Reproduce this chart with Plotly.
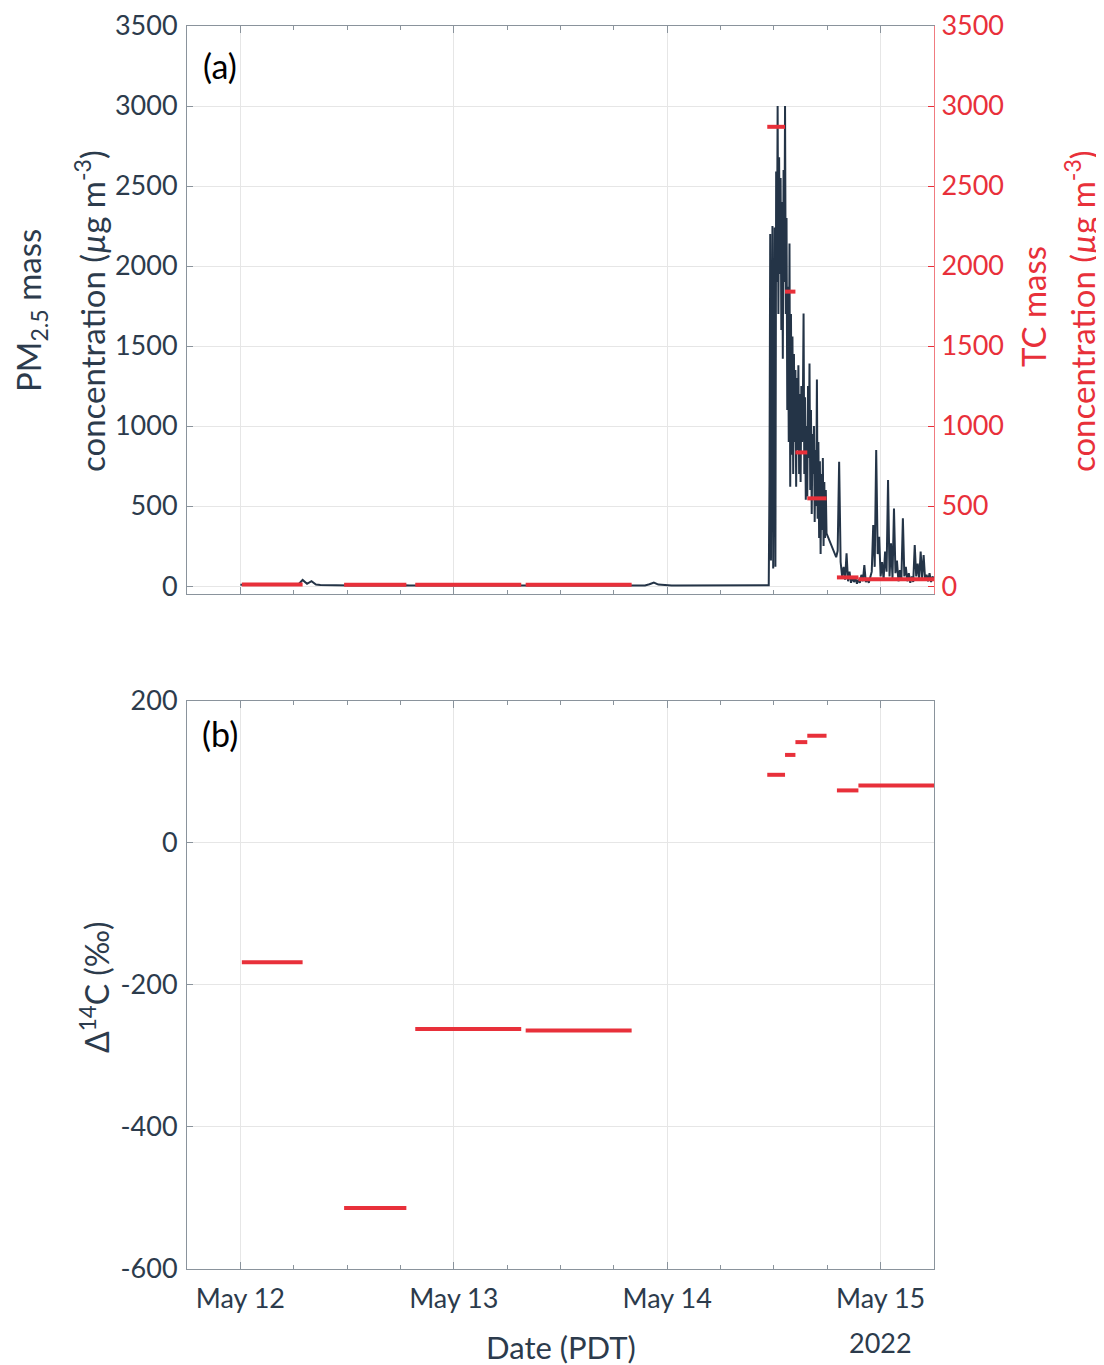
import pandas as pd
import plotly.graph_objects as go

# ---------------- data ----------------
# PM2.5 (ug m-3): baseline every 30 min from 2022-05-12 00:00
pm_base = [8, 9, 8, 9, 8, 8, 9, 8, 7, 8, 8, 7, 8, 8,
           38, 14, 30, 10, 7, 6,
           5, 5, 4, 5, 4, 4, 5, 4, 4, 5, 4, 4, 4, 5, 4, 4, 4, 5, 4, 4, 4, 4, 5, 4, 4, 4, 4, 5,
           4, 4, 5, 4, 4, 4, 5, 4, 4, 4, 4, 5, 4, 4, 4, 4, 5, 4, 4, 4, 4, 4, 5, 4, 4, 4, 4, 4, 5, 4,
           4, 4, 4, 5, 4, 4, 4, 4, 4, 5, 4, 4, 4, 4, 11, 22, 9, 6,
           5, 4, 4, 4, 5, 4, 4, 4, 4, 5, 4, 4, 4, 4, 5, 4, 4, 4, 4, 5, 4, 4, 4]
# event, every 5 min from 2022-05-14 11:05
pm_event = [4, 4, 5, 4, 5, 650, 2200, 160, 1900, 2250, 110,
            1500, 2240, 120, 2590, 1900, 3000, 1700, 2680, 1950, 2550, 1600, 2400,
            1420, 2600, 1900, 3000, 1700, 2300, 1100, 1870, 900, 2140, 620, 1700,
            820, 1560, 700, 1450, 900, 1350, 620, 1300, 850, 1380, 700, 1200,
            650, 1250, 900, 1100, 1704, 700, 1180, 540, 1000, 560, 1250, 800,
            1390, 600, 1100, 450, 950, 700, 1000, 400, 850, 500, 1290, 420,
            900, 300, 780, 200, 700, 350, 800, 250, 650, 300, 600, 330]
# after the event, every 10 min from 2022-05-14 19:00
pm_after = [180, 220, 777, 150, 60, 120,
            40, 204, 30, 90, 20, 60,
            25, 50, 15, 40, 20, 70,
            30, 131, 25, 45, 20, 60,
            90, 381, 120, 850, 200, 308,
            60, 150, 40, 215, 90, 662,
            60, 267, 50, 485, 80, 160,
            30, 100, 40, 423, 60, 120,
            30, 80, 20, 60, 25, 256,
            60, 140, 40, 215, 50, 194,
            40, 70, 30, 80, 25, 60,
            40]

# filter samples (start / end) with TC mass and Delta14C
tc_start = ["2022-05-12 00:10", "2022-05-12 11:40", "2022-05-12 19:40", "2022-05-13 08:05",
            "2022-05-14 11:15", "2022-05-14 13:15", "2022-05-14 14:25", "2022-05-14 15:45",
            "2022-05-14 19:05", "2022-05-14 21:30"]
tc_end = ["2022-05-12 07:00", "2022-05-12 18:40", "2022-05-13 07:35", "2022-05-13 20:00",
          "2022-05-14 13:15", "2022-05-14 14:25", "2022-05-14 15:45", "2022-05-14 17:55",
          "2022-05-14 21:30", "2022-05-15 08:00"]
tc_mass = [10, 8, 8, 8, 2870, 1840, 835, 548, 54, 42]
d14c = [-168, -514, -262, -264, 96, 124, 142, 151, 74, 81]

day_ticks = ["2022-05-12", "2022-05-13", "2022-05-14", "2022-05-15"]
pm_ticks = [0, 500, 1000, 1500, 2000, 2500, 3000, 3500]
d14c_ticks = [-600, -400, -200, 0, 200]
d14c_ticktext = ["-600", "-400", "-200", "0", "200"]

# ---------------- build ----------------
t_base = pd.date_range("2022-05-12 00:00", periods=len(pm_base), freq="30min")
t_event = pd.date_range("2022-05-14 11:05", periods=len(pm_event), freq="5min")
t_after = pd.date_range("2022-05-14 19:00", periods=len(pm_after), freq="10min")
pm_t = list(t_base) + list(t_event) + list(t_after)
pm_v = pm_base + pm_event + pm_after


def segs(starts, ends, vals):
    xs, ys = [], []
    for s, e, v in zip(starts, ends, vals):
        xs += [s, e, None]
        ys += [v, v, None]
    return xs, ys


RED = "#e8303a"
NAVY = "#243447"
TXT = "#2c3b4c"
GRID = "#e6e6e6"
FRAME = "#8a939c"
FONT = "Lato"
FS = 27
TFS = 33

fig = go.Figure()
fig.add_trace(go.Scatter(x=pm_t, y=pm_v, mode="lines", line=dict(color=NAVY, width=2),
                         xaxis="x", yaxis="y", showlegend=False))
tx, ty = segs(tc_start, tc_end, tc_mass)
fig.add_trace(go.Scatter(x=tx, y=ty, mode="lines", line=dict(color=RED, width=4),
                         xaxis="x", yaxis="y2", showlegend=False, connectgaps=False))
dx, dy = segs(tc_start, tc_end, d14c)
fig.add_trace(go.Scatter(x=dx, y=dy, mode="lines", line=dict(color=RED, width=4),
                         xaxis="x2", yaxis="y3", showlegend=False, connectgaps=False))

xr = ["2022-05-11 18:00", "2022-05-15 06:00"]
xcommon = dict(type="date", range=xr, tickvals=day_ticks, showgrid=True, gridcolor=GRID,
               ticks="inside", ticklen=7, tickcolor=FRAME, showline=True, linecolor=FRAME,
               mirror="ticks", zeroline=False, automargin=False,
               minor=dict(dtick=6 * 3600 * 1000, tick0="2022-05-12", ticks="inside",
                          ticklen=4, tickcolor=FRAME, showgrid=False))

top_dom = [0.543, 1.0]
bot_dom = [0.0, 0.457]

# page body has an 8px margin, so the figure is 8px smaller than the window
fig.update_layout(
    width=1096, height=1357,
    margin=dict(l=179, r=170, t=18, b=96, autoexpand=False),
    paper_bgcolor="white", plot_bgcolor="white",
    font=dict(family=FONT, size=FS, color=TXT),
    xaxis=dict(**xcommon, domain=[0, 1], anchor="y", showticklabels=False),
    yaxis=dict(domain=top_dom, anchor="x", range=[-50, 3500], tickvals=pm_ticks,
               showgrid=True, gridcolor=GRID, zeroline=False, ticks="inside", ticklen=6,
               tickcolor=FRAME, showline=True, linecolor=FRAME, ticklabelstandoff=3,
               tickfont=dict(color=TXT), automargin=False),
    yaxis2=dict(overlaying="y", side="right", anchor="x", range=[-50, 3500],
                tickvals=pm_ticks, showgrid=False, zeroline=False,
                ticks="inside", ticklen=6, tickcolor=RED, showline=True, linecolor="#f07b80",
                tickfont=dict(color=RED), ticklabelstandoff=1, automargin=False),
    xaxis2=dict(**xcommon, domain=[0, 1], anchor="y3", tickformat="%b %d",
                ticklabelstandoff=6),
    yaxis3=dict(domain=bot_dom, anchor="x2", range=[-600, 200], tickvals=d14c_ticks,
                ticktext=d14c_ticktext,
                showgrid=True, gridcolor=GRID, zeroline=False, ticks="inside", ticklen=6,
                tickcolor=FRAME, showline=True, linecolor=FRAME, mirror=True,
                ticklabelstandoff=3, automargin=False),
)


def title(text, x, y, color=TXT, size=TFS, angle=-90):
    fig.add_annotation(text=text, xref="paper", yref="paper", x=x, y=y, textangle=angle,
                       showarrow=False, xanchor="center", yanchor="middle",
                       font=dict(size=size, color=color))


title("PM<sub>2.5</sub> mass", -0.2102, 0.7715)
title("concentration (<i>µ</i>g m<sup>-3</sup>)", -0.1299, 0.7707)
title("TC mass", 1.1325, 0.7747, color=RED)
title("concentration (<i>µ</i>g m<sup>-3</sup>)", 1.1955, 0.7707, color=RED)
title("Δ<sup>14</sup>C (‰)", -0.1232, 0.2269, size=32)
title("Date (PDT)", 0.5, -0.0628, size=31, angle=0)
fig.add_annotation(text="2022", xref="x2", yref="paper", x="2022-05-15", y=-0.0595,
                   showarrow=False, xanchor="center", yanchor="middle",
                   font=dict(size=FS, color=TXT))
title("(a)", 0.0442, 0.9686, color="black", size=34, angle=0)
title("(b)", 0.0442, 0.431, color="black", size=34, angle=0)

fig.write_html("out.html")
